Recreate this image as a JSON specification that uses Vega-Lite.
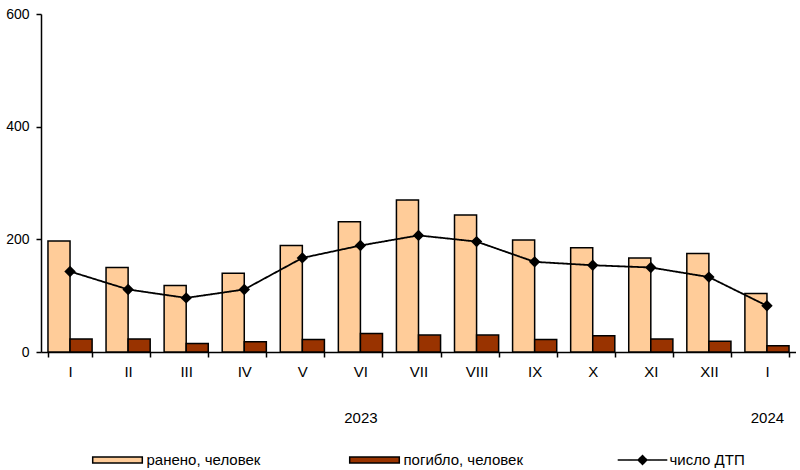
{
  "$schema": "https://vega.github.io/schema/vega-lite/v6.json",
  "width": 755,
  "height": 338,
  "padding": {"left": 5, "top": 7, "right": 0, "bottom": 0},
  "config": {
    "view": {"stroke": null},
    "font": "Liberation Sans",
    "axis": {
      "domainColor": "black",
      "domainWidth": 1.5,
      "tickColor": "black",
      "tickWidth": 1.5,
      "tickSize": 5,
      "labelColor": "black",
      "labelFontSize": 14,
      "labelFont": "Liberation Sans",
      "grid": false,
      "title": null
    },
    "legend": {
      "labelFontSize": 15,
      "labelFont": "Liberation Sans",
      "labelColor": "black",
      "labelOffset": 20,
      "symbolSize": 256,
      "symbolStrokeColor": "black",
      "symbolStrokeWidth": 1.5,
      "symbolOpacity": 1
    }
  },
  "datasets": {
    "bars": [
      {"period": "2023-I", "series": "ранено, человек", "value": 197},
      {"period": "2023-II", "series": "ранено, человек", "value": 150},
      {"period": "2023-III", "series": "ранено, человек", "value": 118},
      {"period": "2023-IV", "series": "ранено, человек", "value": 140},
      {"period": "2023-V", "series": "ранено, человек", "value": 189},
      {"period": "2023-VI", "series": "ранено, человек", "value": 231},
      {"period": "2023-VII", "series": "ранено, человек", "value": 270},
      {"period": "2023-VIII", "series": "ранено, человек", "value": 243},
      {"period": "2023-IX", "series": "ранено, человек", "value": 199},
      {"period": "2023-X", "series": "ранено, человек", "value": 185},
      {"period": "2023-XI", "series": "ранено, человек", "value": 167},
      {"period": "2023-XII", "series": "ранено, человек", "value": 175},
      {"period": "2024-I", "series": "ранено, человек", "value": 104},
      {"period": "2023-I", "series": "погибло, человек", "value": 23},
      {"period": "2023-II", "series": "погибло, человек", "value": 23},
      {"period": "2023-III", "series": "погибло, человек", "value": 15},
      {"period": "2023-IV", "series": "погибло, человек", "value": 18},
      {"period": "2023-V", "series": "погибло, человек", "value": 22},
      {"period": "2023-VI", "series": "погибло, человек", "value": 33},
      {"period": "2023-VII", "series": "погибло, человек", "value": 30},
      {"period": "2023-VIII", "series": "погибло, человек", "value": 30},
      {"period": "2023-IX", "series": "погибло, человек", "value": 22},
      {"period": "2023-X", "series": "погибло, человек", "value": 29},
      {"period": "2023-XI", "series": "погибло, человек", "value": 23},
      {"period": "2023-XII", "series": "погибло, человек", "value": 19},
      {"period": "2024-I", "series": "погибло, человек", "value": 11}
    ],
    "dtp": [
      {"period": "2023-I", "value": 143},
      {"period": "2023-II", "value": 111},
      {"period": "2023-III", "value": 96},
      {"period": "2023-IV", "value": 111},
      {"period": "2023-V", "value": 167},
      {"period": "2023-VI", "value": 189},
      {"period": "2023-VII", "value": 207},
      {"period": "2023-VIII", "value": 196},
      {"period": "2023-IX", "value": 160},
      {"period": "2023-X", "value": 154},
      {"period": "2023-XI", "value": 150},
      {"period": "2023-XII", "value": 133},
      {"period": "2024-I", "value": 82}
    ]
  },
  "layer": [
    {
      "data": {"name": "bars"},
      "mark": {"type": "bar", "stroke": "black", "strokeWidth": 1.5},
      "encoding": {
        "x": {
          "field": "period",
          "type": "nominal",
          "sort": null,
          "scale": {
            "domain": ["2023-I", "2023-II", "2023-III", "2023-IV", "2023-V", "2023-VI", "2023-VII", "2023-VIII", "2023-IX", "2023-X", "2023-XI", "2023-XII", "2024-I"],
            "paddingInner": 0.24,
            "paddingOuter": 0.12
          },
          "axis": {
            "labelAngle": 0,
            "tickBand": "extent",
            "labelPadding": 7,
            "labelFontSize": 15,
            "labelLineHeight": 46,
            "labelOverlap": false,
            "labelExpr": "datum.value == '2023-VI' ? ['VI', '2023'] : datum.value == '2024-I' ? ['I', '2024'] : split(datum.value, '-')[1]"
          }
        },
        "xOffset": {
          "field": "series",
          "type": "nominal",
          "scale": {"domain": ["ранено, человек", "погибло, человек"]}
        },
        "y": {
          "field": "value",
          "type": "quantitative",
          "scale": {"domain": [0, 600]},
          "axis": {"values": [0, 200, 400, 600], "labelPadding": 7}
        },
        "color": {
          "field": "series",
          "type": "nominal",
          "scale": {
            "domain": ["ранено, человек", "погибло, человек"],
            "range": ["#FFCC99", "#993300"]
          },
          "legend": {
            "orient": "none",
            "legendX": 67.5,
            "legendY": 437,
            "direction": "horizontal",
            "columns": 2,
            "title": null,
            "gridAlign": "all",
            "columnPadding": 80,
            "symbolType": "M-3.1,-0.375H3.1V0.375H-3.1Z"
          }
        }
      }
    },
    {
      "data": {"name": "dtp"},
      "mark": {"type": "line", "color": "black", "strokeWidth": 1.8},
      "encoding": {
        "x": {"field": "period", "type": "nominal", "sort": null},
        "y": {"field": "value", "type": "quantitative"},
        "strokeDash": {
          "datum": "число ДТП",
          "type": "nominal",
          "scale": {"range": [[1, 0]]},
          "legend": {
            "orient": "none",
            "legendX": 592.5,
            "legendY": 437,
            "title": null,
            "symbolSize": 256,
            "labelOffset": 18,
            "symbolType": "M-3.1,0H3.1M0,-0.55L0.55,0L0,0.55L-0.55,0Z",
            "symbolFillColor": "black",
            "symbolStrokeColor": "black"
          }
        }
      }
    },
    {
      "data": {"name": "dtp"},
      "mark": {"type": "point", "shape": "diamond", "filled": true, "color": "black", "size": 130, "opacity": 1},
      "encoding": {
        "x": {"field": "period", "type": "nominal", "sort": null},
        "y": {"field": "value", "type": "quantitative"}
      }
    }
  ]
}
